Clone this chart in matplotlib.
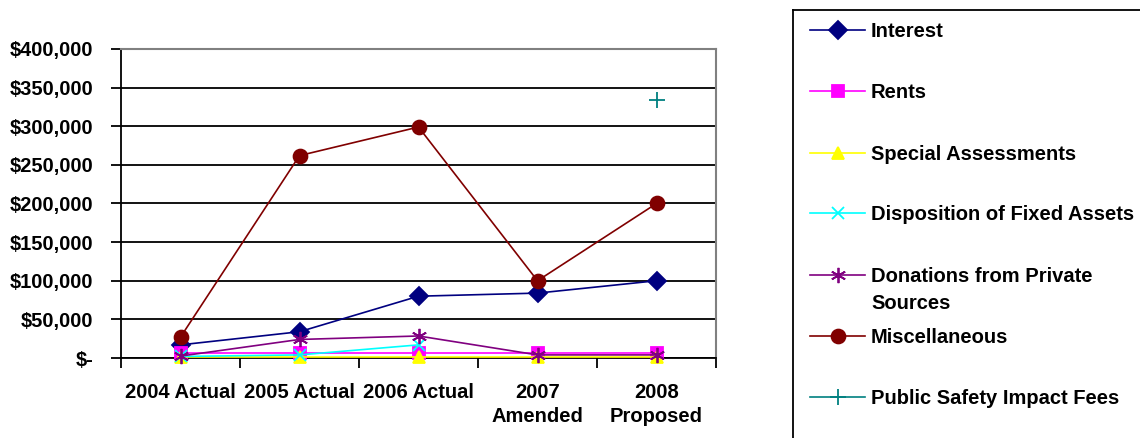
import numpy as np
import matplotlib
matplotlib.use("Agg")
import matplotlib.pyplot as plt
from matplotlib.ticker import FuncFormatter

plt.rcParams["font.family"] = ["Liberation Sans", "DejaVu Sans"]
plt.rcParams["font.weight"] = "bold"

years = ["2004 Actual", "2005 Actual", "2006 Actual", "2007\nAmended", "2008\nProposed"]

interest = [17000, 34000, 80000, 84000, 100000]
rents = [6000, 6000, 6000, 6000, 6000]
special_assessments = [1000, 1000, 1000, 1000, 1000]
disposition = [2000, 4000, 17000, np.nan, np.nan]
donations = [2500, 24000, 28500, 4000, 4000]
miscellaneous = [27000, 262000, 299000, 100000, 200000]
public_safety = [np.nan, np.nan, np.nan, np.nan, 334000]

series = [
    ("Interest", interest, "#000080", "D", 9),
    ("Rents", rents, "#FF00FF", "s", 9),
    ("Special Assessments", special_assessments, "#FFFF00", "^", 9),
    ("Disposition of Fixed Assets", disposition, "#00FFFF", "x", 9),
    ("Donations from Private\nSources", donations, "#800080", (6, 2, 0), 11),
    ("Miscellaneous", miscellaneous, "#800000", "o", 10),
    ("Public Safety Impact Fees", public_safety, "#008080", "+", 12),
]


def money(v, pos):
    if v == 0:
        return "$-"
    return f"${v:,.0f}"


fig = plt.figure(figsize=(11.4, 4.38), dpi=100)
ax = fig.add_axes([121 / 1140, 1 - 358 / 438, 595 / 1140, 309 / 438])

x = np.arange(len(years))
for i, (name, vals, col, mk, ms) in enumerate(series):
    ax.plot(x, vals, color=col, marker=mk, ms=ms, lw=1.2, mew=1.3,
            mec=col, mfc=col, zorder=3 + i, clip_on=False)

ax.set_xlim(-0.5, 4.5)
ax.set_ylim(0, 400000)
ax.set_yticks(np.arange(0, 400001, 50000))
ax.yaxis.set_major_formatter(FuncFormatter(money))
ax.grid(axis="y", color="black", lw=1.3)
ax.set_axisbelow(True)

ax.set_xticks(x)
ax.set_xticklabels(years, fontsize=14.5, fontweight="bold", linespacing=1.36)
ax.set_xticks(np.arange(-0.5, 4.6, 1), minor=True)
ax.tick_params(axis="x", which="major", length=0, pad=18)
ax.tick_params(axis="x", which="minor", length=7, width=1.3, direction="out")
ax.tick_params(axis="y", length=7, width=1.3, direction="out", labelsize=14.5, pad=13)
for lab in ax.get_yticklabels():
    lab.set_fontweight("bold")

ax.spines["left"].set_color("black")
ax.spines["bottom"].set_color("black")
ax.spines["left"].set_linewidth(1.3)
ax.spines["bottom"].set_linewidth(1.3)
ax.spines["top"].set_color("#808080")
ax.spines["right"].set_color("#808080")
ax.spines["top"].set_linewidth(1.5)
ax.spines["right"].set_linewidth(1.5)

# legend panel, laid out in pixel units
lg = fig.add_axes([793 / 1140, -10 / 438, 360 / 1140, 438 / 438])
lg.set_xlim(793, 1153)
lg.set_ylim(448, 10)
lg.set_xticks([])
lg.set_yticks([])
for s in lg.spines.values():
    s.set_color("black")
    s.set_linewidth(1.3)

rows = [30, 91, 153, 213, 275, 336, 397]
for (name, vals, col, mk, ms), yy in zip(series, rows):
    lg.plot([810, 865], [yy, yy], color=col, lw=1.2)
    lg.plot([838], [yy], color=col, marker=mk, ms=ms, mew=1.3, mec=col, mfc=col)
    for j, line in enumerate(name.split("\n")):
        lg.text(871, yy + 7 + 27 * j, line, fontsize=14.5, fontweight="bold",
                va="baseline", ha="left")

fig.savefig("out.png", dpi=100)
